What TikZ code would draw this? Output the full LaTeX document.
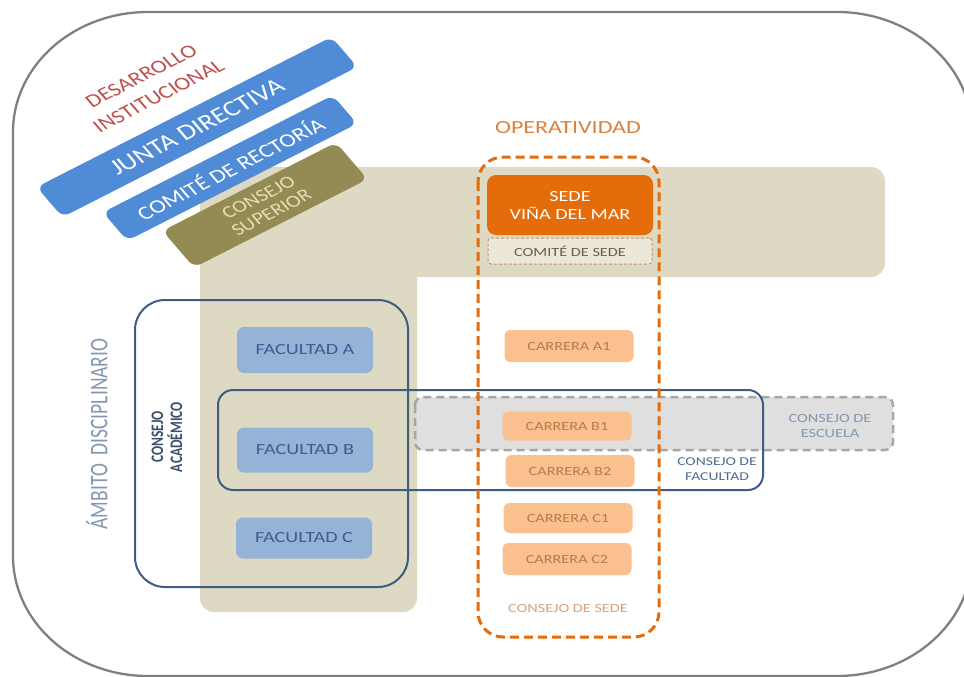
\documentclass[tikz,border=0pt]{standalone}
\usepackage{fontspec}
% horizontal labels use a widened face; slanted and vertical labels are widened by the scope transform
\setmainfont{Carlito}[FakeStretch=1.3]
\newfontfamily\plainfont{Carlito}

\definecolor{framegray}{HTML}{808080}
\definecolor{beige}{HTML}{DDD9C3}
\definecolor{jblue}{HTML}{4F8BD6}
\definecolor{olive}{HTML}{948A54}
\definecolor{olivetext}{HTML}{E8DDB0}
\definecolor{devred}{HTML}{C0504D}
\definecolor{orangemain}{HTML}{E46C0A}
\definecolor{orangetext}{HTML}{D9823F}
\definecolor{carfill}{HTML}{FAC090}
\definecolor{cartext}{HTML}{BD7A45}
\definecolor{sedetext}{HTML}{D9A27A}
\definecolor{comitefill}{HTML}{ECE7D8}
\definecolor{comiteline}{HTML}{C8956A}
\definecolor{comitetext}{HTML}{6B5E4E}
\definecolor{facblue}{HTML}{95B3D7}
\definecolor{factext}{HTML}{3A5F8F}
\definecolor{navy}{HTML}{3F5C82}
\definecolor{navytext}{HTML}{4F6A8F}
\definecolor{acadtext}{HTML}{3B4F6B}
\definecolor{ambito}{HTML}{8496B0}
\definecolor{escfill}{HTML}{D9D9D9}
\definecolor{escline}{HTML}{A6A6A6}
\definecolor{esctext}{HTML}{8497B0}

\begin{document}
\begin{tikzpicture}[x=1pt,y=-1pt,
  slantbox/.style={rounded corners=8, inner sep=0, rotate=33.5, transform shape, align=center},
  facbox/.style={fill=facblue, rounded corners=7, minimum width=136, inner sep=0,
    text=factext, font=\fontsize{15.5}{18}\selectfont},
  carbox/.style={fill=carfill, rounded corners=6, minimum width=129, inner sep=0,
    text=cartext, font=\fontsize{12.5}{14}\selectfont},
  navyframe/.style={draw=navy, line width=2pt},
  label/.style={inner sep=0, align=center}]
\useasboundingbox (0,0) rectangle (964,677);

% outer frame with wide elliptical corners
\draw[framegray, line width=2.3pt]
  (148,12) -- (837,12) arc[start angle=-90, end angle=0, x radius=135, y radius=120]
  -- (972,556) arc[start angle=0, end angle=90, x radius=135, y radius=120]
  -- (148,676) arc[start angle=90, end angle=180, x radius=135, y radius=120]
  -- (13,132) arc[start angle=180, end angle=270, x radius=135, y radius=120] -- cycle;

% L-shaped backdrop: horizontal band and vertical column
\fill[beige, rounded corners=14] (200,167) rectangle (885,277);
\fill[beige, rounded corners=14] (200,167) rectangle (417,612);

% slanted governance bars
\begin{scope}[shift={(265,205)}, xscale=1.3]
  \node[slantbox, fill=olive, minimum width=160, minimum height=44, text=olivetext,
    font=\plainfont\fontsize{17}{18}\selectfont] (superior) at (0,0) {CONSEJO\\SUPERIOR};
\end{scope}
\begin{scope}[shift={(230,168)}, xscale=1.3]
  \node[slantbox, fill=jblue, minimum width=212, minimum height=34, text=white,
    font=\plainfont\fontsize{19}{20}\selectfont] (rectoria) at (0,0) {COMITÉ DE RECTORÍA};
\end{scope}
\begin{scope}[shift={(197,127)}, xscale=1.3]
  \node[slantbox, fill=jblue, minimum width=272, minimum height=36, text=white,
    font=\plainfont\fontsize{22}{24}\selectfont] (junta) at (0,0) {JUNTA DIRECTIVA};
\end{scope}
\begin{scope}[shift={(150,86)}, xscale=1.3]
  \node[slantbox, text=devred, font=\plainfont\fontsize{18.5}{24}\selectfont]
    (desarrollo) at (0,0) {DESARROLLO\\INSTITUCIONAL};
\end{scope}

% school council band
\draw[escline, fill=escfill, fill opacity=0.85, line width=2.5pt, dash pattern=on 8pt off 5pt, rounded corners=8]
  (415,397) rectangle (893,450);
\node[label, text=esctext, font=\fontsize{12.5}{15}\selectfont] (escuela) at (830,426) {CONSEJO DE\\ESCUELA};

% faculty council and academic council
\draw[navyframe, rounded corners=15] (218,390) rectangle (763,490);
\node[label, text=navytext, font=\fontsize{12}{15}\selectfont] (facultad) at (717,469) {CONSEJO DE\\FACULTAD};
\draw[navyframe, rounded corners=30] (135,300) rectangle (408,587);
\begin{scope}[shift={(167,437)}, xscale=1.3]
  \node[label, rotate=90, transform shape, text=acadtext,
    font=\plainfont\bfseries\fontsize{13.5}{14.6}\selectfont] (academico) at (0,0) {CONSEJO\\ACADÉMICO};
\end{scope}
\begin{scope}[shift={(97,434)}, xscale=1.3]
  \node[label, rotate=90, transform shape, text=ambito,
    font=\plainfont\fontsize{19.5}{22}\selectfont] (ambito) at (0,0) {ÁMBITO\ \ DISCIPLINARIO};
\end{scope}

% faculties
\node[facbox, minimum height=46] (facA) at (305,350) {FACULTAD A};
\node[facbox, minimum height=45] (facB) at (305,450) {FACULTAD B};
\node[facbox, minimum height=41] (facC) at (304,538) {FACULTAD C};

% campus column
\node[label, text=orangetext, font=\fontsize{18.5}{20}\selectfont] (operatividad) at (568,128) {OPERATIVIDAD};
\node[fill=orangemain, rounded corners=9, minimum width=166, minimum height=60, inner sep=0,
  text=white, align=center, font=\fontsize{15.5}{18}\selectfont] (sede) at (570,205) {SEDE\\VIÑA DEL MAR};
\node[draw=comiteline, fill=comitefill, line width=1pt, dash pattern=on 3pt off 2pt, rounded corners=3,
  minimum width=164, minimum height=26, inner sep=0, text=comitetext,
  font=\fontsize{12.5}{14}\selectfont] (comite) at (570,251) {COMITÉ DE SEDE};

\node[carbox, minimum height=32] (carA1) at (569,346) {CARRERA A1};
\node[carbox, minimum height=29] (carB1) at (567,426) {CARRERA B1};
\node[carbox, minimum height=32] (carB2) at (570,471) {CARRERA B2};
\node[carbox, minimum height=30] (carC1) at (568,518) {CARRERA C1};
\node[carbox, minimum height=32] (carC2) at (567,559) {CARRERA C2};
\node[label, text=sedetext, font=\fontsize{12.5}{14}\selectfont] (consejosede) at (568,608) {CONSEJO DE SEDE};

\draw[orangemain, line width=3pt, dash pattern=on 9pt off 5pt, rounded corners=25]
  (478,157) rectangle (659,637);
\end{tikzpicture}
\end{document}
